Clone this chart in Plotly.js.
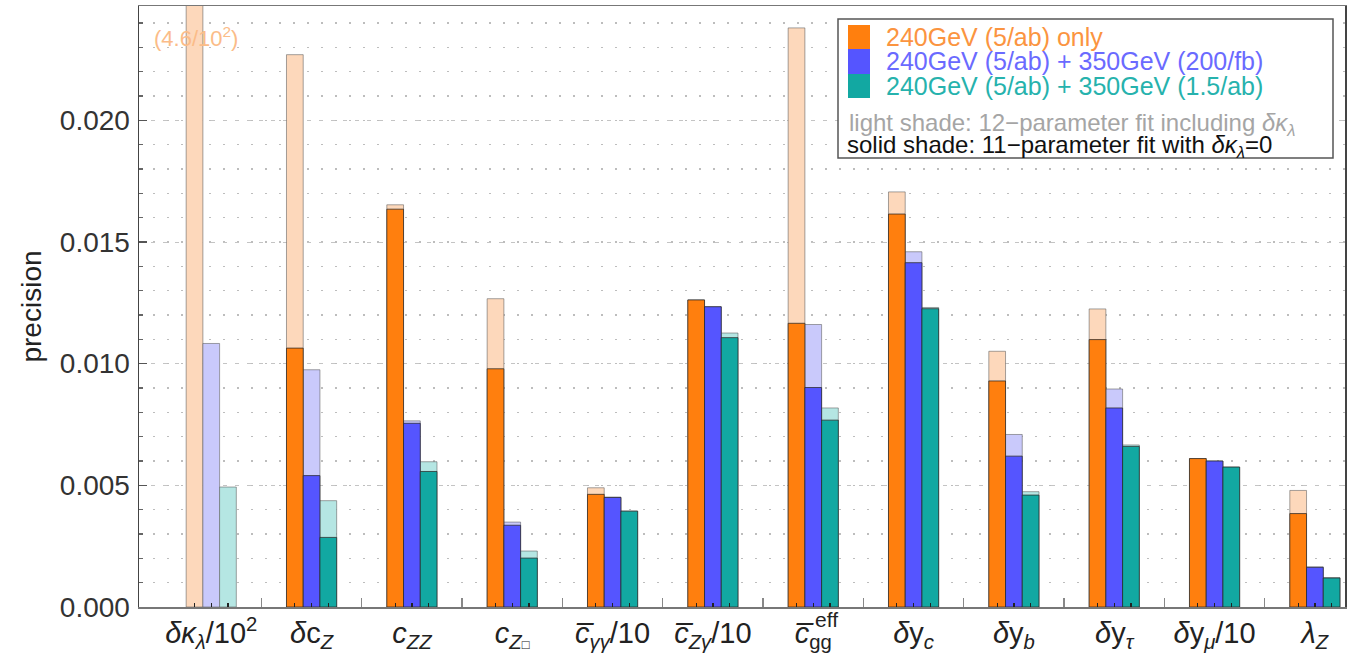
<!DOCTYPE html>
<html>
<head>
<meta charset="utf-8">
<script src="https://cdn.plot.ly/plotly-3.0.1.min.js"></script>
<style>html,body{margin:0;padding:0;background:#fff;}#chart{width:1350px;height:665px;}</style>
</head>
<body>
<div id="chart"></div>
<script>
// ---- data ----
const categories = [
  "<i>δκ</i><sub><i>λ</i></sub>/10<sup>2</sup>",
  "<i>δ</i>c<sub><i>Z</i></sub>",
  "<i>c</i><sub><i>ZZ</i></sub>",
  "<i>c</i><sub><i>Z</i><span style=\"font-size:13px\">□</span></sub>",
  "<i>c̅</i><sub><i>γγ</i></sub>/10",
  "<i>c̅</i><sub><i>Zγ</i></sub>/10",
  "<i>c̅</i><sub>gg</sub>",
  "<i>δ</i>y<sub><i>c</i></sub>",
  "<i>δ</i>y<sub><i>b</i></sub>",
  "<i>δ</i>y<sub><i>τ</i></sub>",
  "<i>δ</i>y<sub><i>μ</i></sub>/10",
  "<i>λ</i><sub><i>Z</i></sub>"
];
const seriesNames = [
  "240GeV (5/ab) only",
  "240GeV (5/ab) + 350GeV (200/fb)",
  "240GeV (5/ab) + 350GeV (1.5/ab)"
];
// light shade: 12-parameter fit including δκλ
const orangeLight = [0.046, 0.0227, 0.01653, 0.01267, 0.0049, 0.01262, 0.0238, 0.01706, 0.01051, 0.01225, 0.0061, 0.00479];
const blueLight   = [0.01083, 0.00975, 0.00765, 0.00349, 0.00452, 0.01234, 0.01161, 0.0146, 0.00709, 0.00896, 0.0060, 0.00165];
const tealLight   = [0.00493, 0.00437, 0.00597, 0.0023, 0.00394, 0.01126, 0.00818, 0.01231, 0.00474, 0.00666, 0.00575, 0.00121];
// solid shade: 11-parameter fit with δκλ=0
const orangeSolid = [null, 0.01064, 0.01635, 0.00979, 0.00463, 0.01262, 0.01166, 0.01615, 0.00929, 0.01099, 0.0061, 0.00384];
const blueSolid   = [null, 0.0054, 0.00755, 0.00336, 0.0045, 0.01234, 0.00902, 0.01415, 0.0062, 0.00818, 0.0060, 0.00163];
const tealSolid   = [null, 0.00286, 0.00557, 0.00201, 0.00394, 0.01107, 0.00768, 0.01226, 0.0046, 0.0066, 0.00575, 0.00119];
const yTickVals = [0, 0.005, 0.010, 0.015, 0.020];

// ---- styling ----
const FONT = '"Liberation Sans", Arial, Helvetica, sans-serif';
const solidColors = ['#FF7F0E', '#5555FF', '#12A8A2'];
const lightColors = ['#FDD8BB', '#C9C9FB', '#B5E6E3'];
const textColors  = ['#FB9440', '#6A6AFF', '#26B2AD'];
const idx = categories.map((c, i) => i);
const W = 1 / 6;
const offsets = [-0.25, -0.25 + W, -0.25 + 2 * W];

const lights = [orangeLight, blueLight, tealLight];
const solids = [orangeSolid, blueSolid, tealSolid];
const traces = [];
lights.forEach((v, k) => traces.push({
  type: 'bar', x: idx, y: v, width: W, offset: offsets[k], name: seriesNames[k] + ' (12-par)',
  marker: {color: lightColors[k], line: {color: 'rgba(90,90,90,0.55)', width: 1}},
  showlegend: false, hoverinfo: 'y'
}));
solids.forEach((v, k) => traces.push({
  type: 'bar', x: idx, y: v, width: W, offset: offsets[k], name: seriesNames[k],
  marker: {color: solidColors[k], line: {color: 'rgba(40,40,40,0.75)', width: 1}},
  showlegend: false, hoverinfo: 'y'
}));
// dummy trace for the boundary-tick axis
traces.push({type: 'scatter', x: [0], y: [null], xaxis: 'x2', yaxis: 'y', showlegend: false, hoverinfo: 'skip'});

const xr = [-0.72, 11.30];
const minorCenters = [];
idx.forEach(i => { minorCenters.push(i - W); minorCenters.push(i + W); });
const boundaries = [];
for (let i = 0; i < categories.length - 1; i++) boundaries.push(i + 0.5);

// paper coords helpers for the legend box (plot area: x 139..1345, y 6..607)
const px = v => (v - 139) / 1206;
const py = v => (607 - v) / 601;

const shapes = [
  {type: 'rect', xref: 'paper', yref: 'paper', x0: px(838), x1: px(1333), y0: py(158), y1: py(19),
   fillcolor: '#fff', line: {color: '#555', width: 1.5}, layer: 'above'}
];
const swY = [25, 49, 74, 98];
solidColors.forEach((c, k) => shapes.push({
  type: 'rect', xref: 'paper', yref: 'paper', x0: px(848), x1: px(870), y0: py(swY[k + 1]), y1: py(swY[k]),
  fillcolor: c, line: {width: 0}, layer: 'above'
}));

const annotations = [
  {xref: 'x', yref: 'y', x: -0.15, y: 0.02341, text: '(4.6/10<sup>2</sup>)', showarrow: false,
   font: {family: FONT, size: 22, color: '#FBBC88'}},
  {xref: 'x', yref: 'paper', x: 6.13, y: py(619), text: 'eff', showarrow: false, xanchor: 'center', yanchor: 'middle',
   font: {family: FONT, size: 21, color: '#222'}}
];
const rowY = [37, 61, 86];
seriesNames.forEach((n, k) => annotations.push({
  xref: 'paper', yref: 'paper', x: px(884), y: py(rowY[k]), xanchor: 'left', yanchor: 'middle',
  text: n, showarrow: false, font: {family: FONT, size: 25, color: textColors[k]}
}));
annotations.push({xref: 'paper', yref: 'paper', x: px(847), y: py(124), xanchor: 'left', yanchor: 'middle', showarrow: false,
  text: 'light shade: 12−parameter fit including <i>δκ</i><sub><i>λ</i></sub>', font: {family: FONT, size: 24, color: '#A5A5A5'}});
annotations.push({xref: 'paper', yref: 'paper', x: px(845), y: py(146), xanchor: 'left', yanchor: 'middle', showarrow: false,
  text: 'solid shade: 11−parameter fit with <i>δκ</i><sub><i>λ</i></sub>=0', font: {family: FONT, size: 24, color: '#111'}});

const layout = {
  width: 1350, height: 665,
  margin: {l: 139, r: 5, t: 6, b: 58},
  paper_bgcolor: '#fff', plot_bgcolor: '#fff',
  barmode: 'overlay',
  font: {family: FONT, color: '#222'},
  xaxis: {
    range: xr, tickmode: 'array', tickvals: idx, ticktext: categories,
    ticks: 'inside', ticklen: 4, tickwidth: 1.2, tickcolor: '#222',
    minor: {tickmode: 'array', tickvals: minorCenters, ticks: 'inside', ticklen: 4, tickwidth: 1.2, tickcolor: '#222', showgrid: false},
    showgrid: false, zeroline: false, showline: true, linecolor: '#777', linewidth: 1.5, mirror: true,
    tickfont: {family: FONT, size: 29, color: '#222'}, fixedrange: true
  },
  xaxis2: {
    overlaying: 'x', matches: 'x', anchor: 'y', side: 'bottom', range: xr,
    tickmode: 'array', tickvals: boundaries, ticks: 'inside', ticklen: 9, tickwidth: 1.5, tickcolor: '#888',
    showticklabels: false, showgrid: false, zeroline: false, showline: false
  },
  yaxis: {
    range: [0, 0.0247], tickmode: 'array', tickvals: yTickVals, tickformat: '.3f',
    ticks: 'inside', ticklen: 8, tickwidth: 1.2, tickcolor: '#555',
    showgrid: true, gridcolor: '#c4c4c4', gridwidth: 1, griddash: '4px,8px',
    minor: {dtick: 0.001, tick0: 0, ticks: 'inside', ticklen: 4, tickcolor: '#666', showgrid: true, gridcolor: '#bdbdbd', gridwidth: 1.2, griddash: '2px,12px'},
    zeroline: false, showline: true, linecolor: '#444', linewidth: 1.5, mirror: true,
    tickfont: {family: FONT, size: 28, color: '#333'}, ticklabelstandoff: 2,
    title: {text: 'precision', font: {family: FONT, size: 28, color: '#222'}, standoff: 10},
    fixedrange: true
  },
  shapes: shapes,
  annotations: annotations
};

Plotly.newPlot('chart', traces, layout, {displayModeBar: false, staticPlot: true});
</script>
</body>
</html>
